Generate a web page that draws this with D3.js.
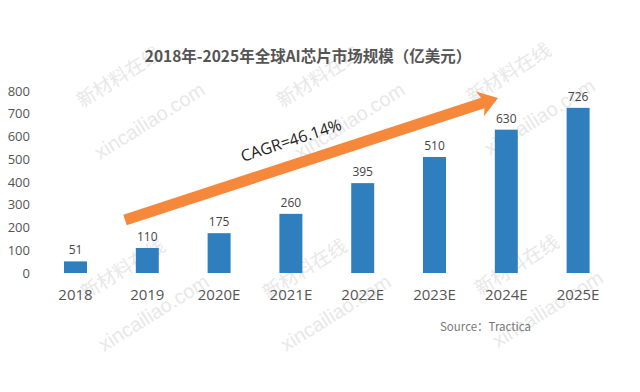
<!DOCTYPE html>
<html><head><meta charset="utf-8">
<script src="https://cdn.jsdelivr.net/npm/d3@7"></script>
<style>body{margin:0;background:#fff;} svg{display:block;}</style>
</head><body>
<svg id="c" width="640" height="392"></svg>
<script>
const categories = ["2018","2019","2020E","2021E","2022E","2023E","2024E","2025E"];
const values = [51,110,175,260,395,510,630,726];
const yTicks = [0,100,200,300,400,500,600,700,800];
const title = "2018年-2025年全球AI芯片市场规模（亿美元）";
const cagrLabel = "CAGR=46.14%";
const sourceLabel = "Source：Tractica";

const svg = d3.select("#c");
const font = "'Open Sans','Noto Sans CJK SC',sans-serif";

// watermarks
const wm = svg.append("g").attr("fill","#e8e8e8").attr("font-family","'Noto Sans CJK SC',sans-serif");
const wmPos = [[82,108],[282,108],[472,104],[86,300],[268,300],[480,296]];
wmPos.forEach(([x,y])=>{
  wm.append("text").attr("transform",`translate(${x},${y}) rotate(-32)`).attr("font-size",19).text("新材料在线");
  wm.append("text").attr("transform",`translate(${x+18},${y+52}) rotate(-32)`).attr("font-size",20).attr("font-family","Arial,sans-serif").text("xincailiao.com");
});

const x = d3.scaleBand().domain(categories).range([39.6,614]).paddingInner(0.68).paddingOuter(0.34);
const y = d3.scaleLinear().domain([0,800]).range([273,91]);

svg.append("text").attr("x",308).attr("y",62).attr("text-anchor","middle")
  .attr("font-size",15.5).attr("font-weight","bold").attr("fill","#555")
  .attr("font-family","'Noto Sans CJK SC',sans-serif").text(title);

const yAxis = svg.append("g").attr("transform","translate(30,0)")
  .call(d3.axisLeft(y).tickValues(yTicks).tickSize(0).tickPadding(0));
yAxis.select(".domain").remove();
yAxis.selectAll("text").attr("font-size",13).attr("fill","#555").attr("font-family",font);

const xAxis = svg.append("g").attr("transform","translate(0,281)")
  .call(d3.axisBottom(x).tickSize(0).tickPadding(8));
xAxis.select(".domain").remove();
xAxis.selectAll("text").attr("font-size",15).attr("fill","#555").attr("font-family",font);

svg.append("g").selectAll("rect").data(values).join("rect")
  .attr("x",(d,i)=>x(categories[i])).attr("width",x.bandwidth())
  .attr("y",d=>y(d)).attr("height",d=>y(0)-y(d)).attr("fill","#2F7EBE");

svg.append("g").selectAll("text").data(values).join("text")
  .attr("x",(d,i)=>x(categories[i])+x.bandwidth()/2).attr("y",d=>y(d)-7)
  .attr("text-anchor","middle").attr("font-size",12).attr("fill","#444")
  .attr("font-family",font).text(d=>d);

// arrow
const x0=125, y0=220, x1=498, y1=98;
const ang = Math.atan2(y1-y0,x1-x0)*180/Math.PI;
const len = Math.hypot(x1-x0,y1-y0);
const ag = svg.append("g").attr("transform",`translate(${x0},${y0}) rotate(${ang})`);
ag.append("path").attr("fill","#F5883A")
  .attr("d",`M0,-5.5 L${len-16},-5.5 L${len-19},-13 L${len},0 L${len-19},13 L${len-16},5.5 L0,5.5 Z`);

svg.append("text").attr("transform",`translate(243,162) rotate(${ang})`)
  .attr("font-size",16).attr("fill","#222").attr("font-family",font).text(cagrLabel);

svg.append("text").attr("x",440).attr("y",331).attr("font-size",11.5).attr("fill","#777")
  .attr("font-family","'Noto Sans CJK SC',sans-serif").text(sourceLabel);
</script>
</body></html>
